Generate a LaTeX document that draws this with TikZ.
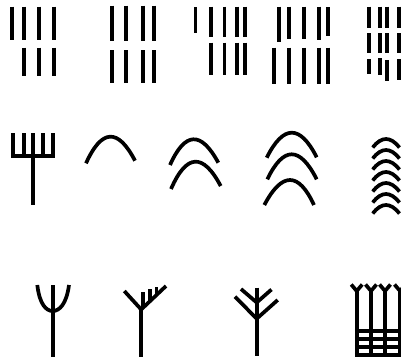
\documentclass[tikz,border=0pt]{standalone}
\usetikzlibrary{calc}
\newcommand\myarch[3]{%
  \coordinate (qq) at ($2*(#2)-0.5*(#1)-0.5*(#3)$);
  \draw[glyph] (#1) .. controls ($(#1)!0.6667!(qq)$) and ($(#3)!0.6667!(qq)$) .. (#3);}
\newcommand\vstroke[3]{\draw[glyph] (#1,#2) -- (#1,#3);}
\begin{document}
\begin{tikzpicture}[x=1pt,y=-1pt,glyph/.style={line width=3.7pt,black}]
\useasboundingbox[fill=white] (0,0) rectangle (401,362);
% ---- row 1 ----
\foreach \x in {11.7,24.3,39.3,54} {\vstroke{\x}{6.7}{40}}
\foreach \x in {24.3,39.3,54} {\vstroke{\x}{47.7}{76}}
\foreach \x in {111.7,125.7,142.7,154.3} {\vstroke{\x}{5.7}{41} \vstroke{\x}{50}{83.3}}
\vstroke{195.5}{7}{32.7}
\foreach \x in {211,224.5,237,245} {\vstroke{\x}{6.7}{36.7} \vstroke{\x}{42.5}{75}}
\vstroke{279}{6.7}{41.7}
\vstroke{289.3}{6.7}{39.3}
\vstroke{304}{6.7}{39.3}
\vstroke{319}{6.7}{40}
\vstroke{328.3}{7.3}{36}
\foreach \x in {274.3,289.3,304,319,328.3} {\vstroke{\x}{47.7}{84}}
\foreach \x in {369,380,387.3,399.3} {\vstroke{\x}{6.7}{28.3} \vstroke{\x}{33.3}{53.3}}
\vstroke{369}{59.3}{74}
\vstroke{380}{58.3}{75}
\vstroke{387.3}{60}{80.7}
\vstroke{399.3}{59.3}{80}
% ---- row 2 ----
\draw[glyph] (13.3,133.3) -- (13.3,156) -- (52.7,156) -- (52.7,133.3);
\foreach \x in {24,33.3,42.7} {\vstroke{\x}{133.3}{156}}
\vstroke{33.3}{156}{205}
\myarch{86,163.3}{110,136.7}{135,160.7}
\myarch{170,165}{193.3,139.3}{218.3,162.7}
\myarch{171,189}{195,161.7}{220.7,186}
\myarch{266.7,157.7}{291.7,132.7}{316.7,157.3}
\myarch{267.3,179.3}{291.7,154.3}{316.7,179.3}
\myarch{264.3,205}{290,180}{314,205}
\foreach \t in {139,150,161,172,183,194,205} {\myarch{372.7,\t+8.5}{386,\t}{399.5,\t+8.5}}
% ---- row 3 ----
\vstroke{52.7}{285}{357.3}
\draw[glyph] (37.3,285) .. controls (39.5,304) and (46,311) .. (52.7,311) .. controls (59.5,311) and (66.5,304) .. (69,285);
\vstroke{141.2}{309.5}{357.3}
\draw[glyph] (124.3,291) -- (141.2,309.5) -- (166,286);
\vstroke{143}{307.8}{291.5}
\vstroke{149.8}{301.4}{289}
\vstroke{156.6}{295}{286.5}
\vstroke{256.7}{287.7}{356}
\draw[glyph] (241,289) -- (256.7,302.5) -- (271.5,289.5);
\draw[glyph] (235,296.7) -- (256.7,318.7) -- (277.7,300);
\foreach \x in {356.7,371,385,400} {\vstroke{\x}{290}{356.8}
  \draw[glyph] (\x-5.5,284.5) -- (\x,291) -- (\x+5.5,284.5);}
\foreach \y in {331,339.3,347,355} {\draw[glyph] (354.85,\y) -- (401,\y);}
\end{tikzpicture}
\end{document}
